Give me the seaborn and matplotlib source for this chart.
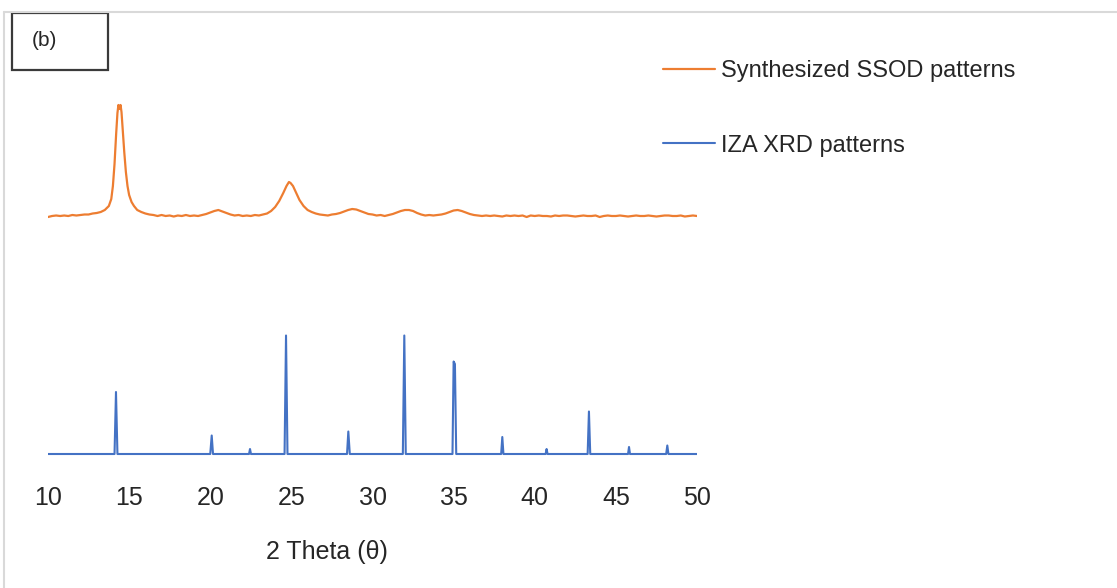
import pandas as pd
import matplotlib.pyplot as plt
import seaborn as sns
from matplotlib.lines import Line2D
from matplotlib.patches import Rectangle

# Patron sintetizado (SSOD): 2 theta y altura sobre su linea base
orange_x = [
    10.0, 10.25, 10.5, 10.75, 11.0, 11.25, 11.5, 11.75, 12.0, 12.25, 12.5, 12.75, 13.0, 13.25, 13.5, 13.75, 13.9,
    14.0, 14.1, 14.2, 14.28, 14.34, 14.41, 14.47, 14.53, 14.6, 14.7, 14.8, 14.9,
    15.0, 15.15, 15.3, 15.5, 15.75, 16.0, 16.25, 16.5, 16.75, 17.0, 17.25, 17.5, 17.75,
    18.0, 18.25, 18.5, 18.75, 19.0, 19.25, 19.5, 19.75, 20.0, 20.25, 20.5, 20.75,
    21.0, 21.25, 21.5, 21.75, 22.0, 22.25, 22.5, 22.75, 23.0, 23.25, 23.5, 23.75,
    24.0, 24.25, 24.5, 24.7, 24.85, 24.95, 25.1, 25.3, 25.5, 25.75,
    26.0, 26.25, 26.5, 26.75, 27.0, 27.25, 27.5, 27.75,
    28.0, 28.25, 28.5, 28.75, 29.0, 29.25, 29.5, 29.75,
    30.0, 30.25, 30.5, 30.75, 31.0, 31.25, 31.5, 31.75, 32.0, 32.25, 32.5, 32.75,
    33.0, 33.25, 33.5, 33.75, 34.0, 34.25, 34.5, 34.75, 35.0, 35.25, 35.5, 35.75,
    36.0, 36.25, 36.5, 36.75, 37.0, 37.25, 37.5, 37.75, 38.0, 38.25, 38.5, 38.75,
    39.0, 39.25, 39.5, 39.75, 40.0, 40.25, 40.5, 40.75, 41.0, 41.25, 41.5, 41.75,
    42.0, 42.25, 42.5, 42.75, 43.0, 43.25, 43.5, 43.75, 44.0, 44.25, 44.5, 44.75,
    45.0, 45.25, 45.5, 45.75, 46.0, 46.25, 46.5, 46.75, 47.0, 47.25, 47.5, 47.75,
    48.0, 48.25, 48.5, 48.75, 49.0, 49.25, 49.5, 49.75, 50.0,
]
orange_y = [
    -1, 0, 0.5, 0, 0.5, 0, 1, 0.5, 1, 1.5, 1.5, 2.5, 3, 4, 6, 10, 17,
    30, 52, 82, 103, 111, 107, 111, 104, 88, 64, 44, 30,
    21, 14, 10, 6, 4, 2.5, 1.5, 1, 0, 1, 0, 0.5, -0.5,
    0.5, 0, 1, 0, 0.5, 0, 1, 2, 3.5, 5, 6, 4.5,
    3, 1.5, 0.5, 1, 0, 0.5, 0, 1, 0.5, 1.5, 2.5, 5,
    9, 15, 23, 30, 34, 33, 30, 23, 16, 10,
    6, 4, 2.5, 1.5, 1, 0.5, 1.5, 2,
    3, 4.5, 6, 7, 6.5, 5, 3.5, 2,
    1.5, 0.5, 1, 0, 1, 2, 3.5, 5, 6, 6, 5, 3,
    1.5, 0.5, 1, 0.5, 1, 1.5, 2.5, 4, 5.5, 6, 5, 3.5,
    2, 1, 0.5, 0, 0.5, 0, 0.5, 0, -0.5, 0.5, 0, 0.5,
    0, 0.5, -1, 0.5, 0, 0.5, 0, 0, -0.5, 0.5, 0, 0.5,
    0.5, 0, -0.5, 0, 0.5, 0, 0, 0.5, -1, 0, 0.5, 0,
    0, 0.5, 0, -0.5, 0, 0.5, 0, 0, 0.5, 0, -0.5, 0,
    0.5, 0.5, 0, 0, 0.5, -0.5, 0, 0.5, 0,
]

# Patron de referencia IZA (picos estrechos)
blue_x = [
    10.0,
    14.1, 14.19, 14.28, 20.0, 20.09, 20.17, 22.39, 22.45, 22.51,
    24.58, 24.67, 24.76, 28.43, 28.51, 28.6, 31.87, 31.96, 32.05,
    34.93, 35.0, 35.08, 35.16,
    37.93, 38.0, 38.07, 40.67, 40.73, 40.79, 43.26, 43.34, 43.42,
    45.75, 45.81, 45.87, 48.1, 48.17, 48.24,
    50.0,
]
blue_y = [
    0,
    0, 62, 0, 0, 18.5, 0, 0, 5, 0,
    0, 118.5, 0, 0, 22.5, 0, 0, 118.5, 0,
    0, 92.5, 90, 0,
    0, 17, 0, 0, 5, 0, 0, 42.5, 0,
    0, 7, 0, 0, 8.5, 0,
    0,
]

x_ticks = [10, 15, 20, 25, 30, 35, 40, 45, 50]
orange_offset = 238  # desplazamiento vertical del patron sintetizado

sns.set_theme(style="white")
plt.rcParams['font.family'] = ['Liberation Sans', 'DejaVu Sans']

W, H = 1117, 588
fig = plt.figure(figsize=(W / 100, H / 100), dpi=100)
ax = fig.add_axes([48 / W, 1 - 460 / H, (697 - 48) / W, 370 / H])

df_orange = pd.DataFrame({'x': orange_x, 'y': [v + orange_offset for v in orange_y]})
df_blue = pd.DataFrame({'x': blue_x, 'y': blue_y})

sns.lineplot(data=df_orange, x='x', y='y', color='#ED7D31', linewidth=1.6,
             estimator=None, sort=False, label='Synthesized SSOD patterns', ax=ax)
sns.lineplot(data=df_blue, x='x', y='y', color='#4472C4', linewidth=1.5,
             estimator=None, sort=False, label='IZA XRD patterns', ax=ax)

ax.set_xlim(10, 50)
ax.set_ylim(-6, 364)
ax.set_xticks(x_ticks)
ax.set_xticklabels([str(t) for t in x_ticks])
ax.set_yticks([])
ax.tick_params(axis='x', length=0, pad=18.5, labelsize=18, labelcolor='#262626')
ax.set_xlabel('')
ax.set_ylabel('')
for s in ax.spines.values():
    s.set_visible(False)

ax.legend(loc='upper left', bbox_to_anchor=(663 / W, 1 - 60 / H), bbox_transform=fig.transFigure,
          frameon=False, fontsize=17, handlelength=2.2, handletextpad=0.25,
          labelspacing=2.23, borderpad=0, borderaxespad=0, labelcolor='#262626')

fig.text(327 / W, 1 - 552 / H, '2 Theta (θ)', ha='center', va='center', fontsize=18, color='#262626')

# borde gris de la figura
fig.add_artist(Line2D([4 / W, 4 / W], [0, 1 - 12 / H], color='#d9d9d9', lw=1.5, transform=fig.transFigure))
fig.add_artist(Line2D([4 / W, 1], [1 - 12 / H, 1 - 12 / H], color='#d9d9d9', lw=1.5, transform=fig.transFigure))

# recuadro (b)
fig.add_artist(Rectangle((12 / W, 1 - 70 / H), 96 / W, 57 / H, fill=False, edgecolor='#3a3a3a',
                         lw=1.6, transform=fig.transFigure))
fig.text(44 / W, 1 - 40 / H, '(b)', ha='center', va='center', fontsize=15, color='#262626')

plt.savefig('out.png', dpi=100)
